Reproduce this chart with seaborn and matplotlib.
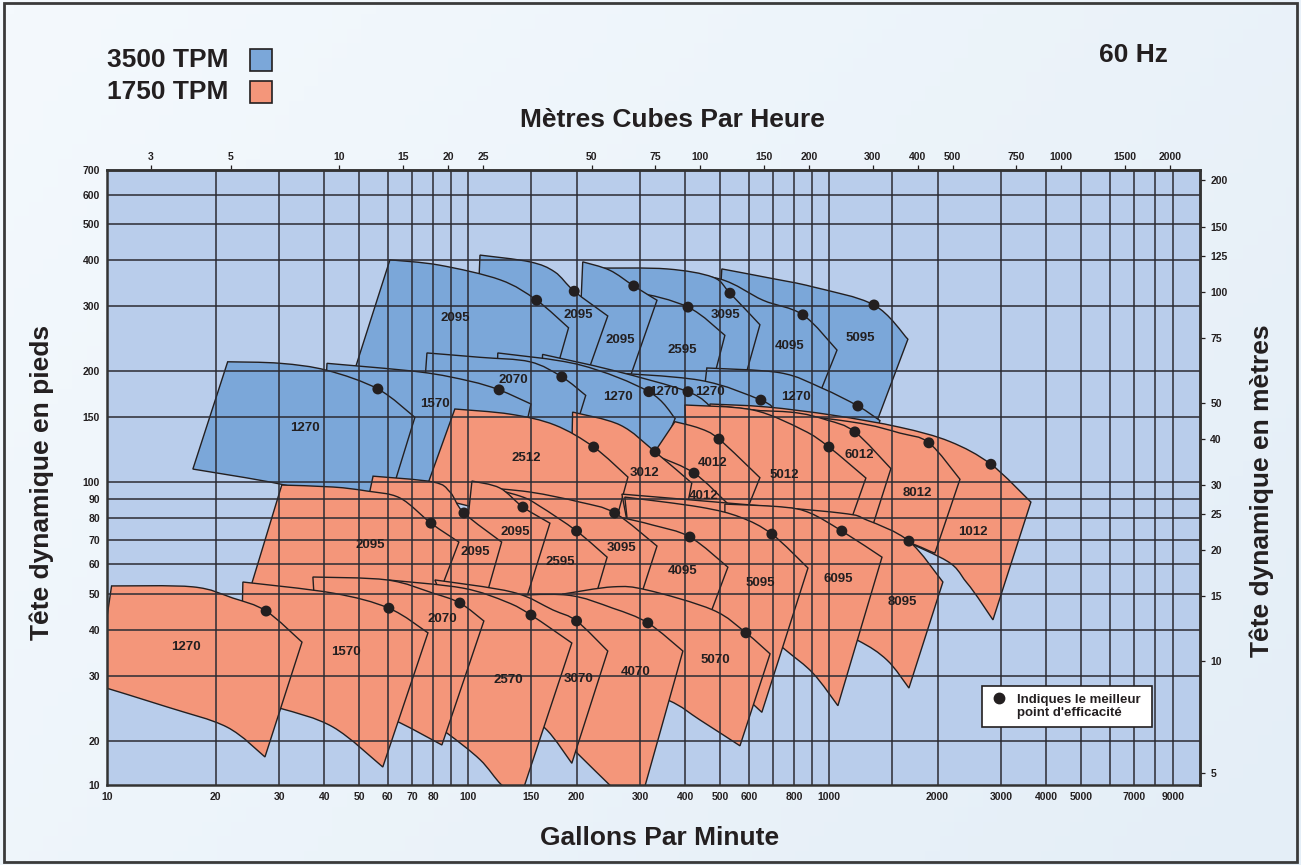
import numpy as np
import matplotlib
matplotlib.use("Agg")
import matplotlib.pyplot as plt
from matplotlib.path import Path
from matplotlib.patches import PathPatch, Rectangle
from matplotlib.ticker import NullLocator
from matplotlib.colors import LinearSegmentedColormap
import seaborn as sns

sns.set_theme(style="white")
plt.rcParams["font.family"] = ["Liberation Sans", "DejaVu Sans"]

# colours
INK = "#231f20"
GRID = "#2b2b33"
BLUE = "#7ba7d9"
ORANGE = "#f4967a"
FIELD = "#b9cdeb"

# axis values
GPM_LABELS = [10, 20, 30, 40, 50, 60, 70, 80, 100, 150, 200, 300, 400, 500, 600,
              800, 1000, 2000, 3000, 4000, 5000, 7000, 9000]
GPM_GRID = [20, 30, 40, 50, 60, 70, 80, 90, 100, 150, 200, 300, 400, 500, 600, 700,
            800, 900, 1000, 1500, 2000, 3000, 4000, 5000, 6000, 7000, 8000, 9000]
FT_LABELS = [20, 30, 40, 50, 60, 70, 80, 90, 100, 150, 200, 300, 400, 500, 600, 700]
FT_GRID = [20, 30, 40, 50, 60, 70, 80, 90, 100, 150, 200, 300, 400, 500, 600]
M3H_TICKS = [3, 5, 10, 15, 20, 25, 50, 75, 100, 150, 200, 300, 400, 500, 750, 1000, 1500, 2000]
M_TICKS = [5, 10, 15, 20, 25, 30, 40, 50, 75, 100, 125, 150, 200]
GPM_RANGE = (10, 10660)
FT_RANGE = (15.2, 700)   # the chart is cut at the bottom but labelled 10

# pump coverage areas in (gpm, ft)
# (model, top edge shut-off -> run-out, bottom edge right -> left, best efficiency point, label spot)
rpm3500_upper = [
    ("5095", [(505, 378), (687, 357), (903, 338), (1333, 302), (1655, 244)],
     [(1350, 144), (831, 169), (486, 196)], (1333, 302), (1219, 246)),
    ("4095", [(340, 371), (499, 355), (657, 311), (847, 284), (1053, 228)],
     [(938, 172), (567, 189), (330, 199)], (847, 284), (780, 234)),
    ("3095", [(232, 380), (356, 378), (477, 359), (532, 325), (644, 267)],
     [(589, 196), (387, 178), (232, 189)], (532, 325), (518, 284)),
    ("2595", [(211, 327), (288, 327), (407, 298), (515, 250)],
     [(474, 183), (319, 183), (218, 189)], (407, 298), (392, 228)),
    ("2095", [(208, 395), (247, 375), (288, 340), (334, 311)],
     [(281, 192), (232, 199), (202, 204)], (288, 340), (264, 243)),
    ("2095", [(108, 412), (148.5, 395), (174, 371), (197, 329), (244, 282)],
     [(215, 199), (158, 204), (105, 212)], (197, 329), (202, 284)),
    ("2095", [(60.8, 400), (83.4, 387), (123, 353), (155, 311), (190, 262)],
     [(171, 183), (89, 189), (46.8, 180)], (155, 311), (92, 278)),
]

rpm3500_lower = [
    ("1270", [(459, 204), (732, 198), (956, 180), (1203, 161), (1385, 147)],
     [(1266, 115), (732, 130), (439, 139)], (1203, 161), (810, 170)),
    ("1270", [(232, 199), (439, 189), (648, 167), (709, 157)],
     [(665, 130), (439, 134), (232, 143)], (648, 167), (468, 176)),
    ("1270", [(161, 222), (252, 201), (407, 176), (474, 159)],
     [(439, 130), (264, 139), (158, 143)], (407, 176), (349, 176)),
    ("1270", [(121, 224), (204, 208), (317, 176), (375, 149)],
     [(345, 122), (204, 130), (119, 139)], (317, 176), (260, 170)),
    ("2070", [(77, 224), (108, 218), (148.5, 212), (182, 193), (212, 172)],
     [(194, 130), (123, 130), (74, 130)], (182, 193), (134, 189)),
    ("1570", [(40.7, 210), (73.6, 199), (101, 188), (122, 178), (149.5, 163)],
     [(132, 95.4), (73.6, 89.6), (38.9, 89.6)], (122, 178), (81, 163)),
    ("1270", [(21.6, 212), (30.2, 210), (40.7, 201), (56.3, 179), (71.3, 150)],
     [(58.9, 82), (44.2, 89.6), (30.2, 99), (17.3, 108.7)], (56.3, 179), (35.4, 140)),
]

rpm1750_12 = [
    ("1012", [(468, 163), (673, 160), (1026, 152), (1573, 141), (2163, 129), (2811, 112), (3627, 88.5)],
     [(2847, 42.5), (2412, 53.5), (2030, 62.8), (1143, 76.7), (499, 79.1)], (2811, 112), (2506, 73.4)),
    ("8012", [(499, 161), (1143, 146), (1573, 136), (1892, 128), (2307, 102)],
     [(1966, 64.4), (1385, 72.1), (644, 76.7), (439, 76.7)], (1892, 128), (1753, 93.6)),
    ("6012", [(499, 157), (780, 155), (987, 147.5), (1180, 137), (1485, 109)],
     [(1316, 75.3), (831, 76.7), (439, 76.7)], (1180, 137), (1211, 118.6)),
    ("5012", [(399, 162), (616, 157), (847, 138.6), (1000, 124.7), (1266, 102.8)],
     [(1151, 79.1), (732, 76.7), (412, 76.7)], (1000, 124.7), (750, 104.7)),
    ("4012", [(374.5, 146), (439, 140), (496, 131), (644, 103)],
     [(597, 85.8), (439, 76.7), (241, 76.7)], (496, 131), (477, 112.8)),
    ("4012", [(232, 137), (330, 118.6), (423, 106), (522, 88)],
     [(505, 81.1), (387, 76.7), (232, 79.1)], (423, 106), (450.5, 91.9)),
    ("3012", [(195, 155), (264, 143), (330, 121), (417, 99.6)],
     [(402, 83.2), (300, 79.1), (192, 79.1)], (330, 121), (309, 106)),
    ("2512", [(92, 158), (131, 153), (174, 143), (223, 124.7), (277.5, 103.4)],
     [(262, 84.2), (139, 81.6), (75.5, 92.5)], (223, 124.7), (144.7, 116.4)),
]

rpm1750_95 = [
    ("8095", [(267, 93), (522, 88), (1073, 82.7), (1275, 79.1), (1666, 69.4), (2069, 53.8)],
     [(1666, 27.8), (1448, 33.1), (1196, 37.5), (831, 43.8), (300, 51.2)], (1666, 69.4), (1593, 47.5)),
    ("6095", [(515, 87.4), (746, 85.8), (886, 82.7), (1086, 73.9), (1403, 62.8)],
     [(1059, 24.9), (903, 30.5), (746, 35.7), (515, 48.1)], (1086, 73.9), (1059, 54.8)),
    ("5095", [(272, 91.3), (439, 85.8), (567, 80.6), (695, 72.5), (875, 58.7)],
     [(652, 23.9), (549, 27.5), (387, 33.1), (300, 37.5)], (695, 72.5), (644, 53.5)),
    ("4095", [(180, 86.9), (255, 81.1), (325, 76.7), (412, 71.2), (525, 59)],
     [(468, 43.8), (340, 46.6), (183, 48.1)], (412, 71.2), (394, 57.6)),
    ("3095", [(106.6, 97.2), (148.5, 94.2), (204, 88.5), (255, 82.7), (334, 67.3)],
     [(300, 48.7), (232, 49.3), (148.5, 49.3)], (255, 82.7), (267, 66.5)),
    ("2595", [(103.9, 99), (139.3, 91.9), (158, 86.3), (200, 73.9), (243, 62.8)],
     [(225, 48.7), (158, 49.3), (115, 49.9)], (200, 73.9), (180, 60.9)),
    ("2095", [(102.6, 100.9), (122.6, 96.6), (142, 85.8), (168.7, 77.6)],
     [(144.7, 48.1), (115, 48.7), (95, 49.6)], (142, 85.8), (135, 73.4)),
    ("2095", [(54.6, 104), (80, 100.3), (89.2, 94.2), (97.5, 82.7), (124, 69)],
     [(112, 48.7), (73.6, 51.8), (47.1, 52.8)], (97.5, 82.7), (105, 64.8)),
    ("2095", [(30.5, 98.4), (42.3, 97.2), (52.5, 94.8), (64.8, 90.8), (79, 77.6), (94.4, 69)],
     [(82, 48.1), (47.1, 48.1), (24.4, 48.1)], (79, 77.6), (53.5, 67.7)),
]

rpm1750_70 = [
    ("5070", [(183, 49.9), (252, 52.2), (313, 51.2), (477, 45.2), (589, 39.2), (687, 34.4)],
     [(567, 19.4), (439, 22.8), (358, 25.8), (232, 30.1), (163.5, 32.1)], (589, 39.2), (486, 33.1)),
    ("4070", [(122.6, 49.3), (188, 49.6), (252, 45.7), (315, 41.7), (394, 35)],
     [(301.5, 13.8), (272, 13.8), (247, 15.2), (200, 18.6), (163.5, 22.8)], (315, 41.7), (292, 30.7)),
    ("3070", [(81, 54.5), (133, 50.5), (172, 45.2), (200, 42.2), (244, 35)],
     [(194, 17.4), (165.5, 21.4), (139, 24.2), (108, 27.5)], (200, 42.2), (202, 29.4)),
    ("2570", [(60, 54.5), (96.8, 51.8), (128, 47.5), (149.5, 43.8), (194, 36.8)],
     [(140, 14.1), (124, 15.2), (108, 17.8), (87.5, 21), (73.6, 23.5)], (149.5, 43.8), (129, 29.2)),
    ("2070", [(37.2, 55.5), (59.7, 54.5), (80, 50.2), (95, 47.2), (110.7, 42.2)],
     [(84.7, 19.5), (64.8, 22.4), (50.2, 25), (38.9, 27.5)], (95, 47.2), (84.7, 42.7)),
    ("1570", [(23.8, 53.8), (42.3, 50.2), (60.4, 45.7), (77.5, 39.2)],
     [(58.1, 17), (42.3, 21.8), (30.2, 24.5), (23.4, 25.8)], (60.4, 45.7), (45.9, 34.8)),
    ("1270", [(10.3, 52.5), (17.3, 52.2), (22.3, 48.7), (27.6, 44.9), (34.7, 37)],
     [(27.4, 18.1), (21.5, 21.8), (14.7, 24.7), (9.38, 28.3)], (27.6, 44.9), (16.6, 35.9)),
]


def bezier_through(pts):
    # catmull-rom through the points, worked out in log space (the axes are log-log)
    p = np.log10(np.asarray(pts, dtype=float))
    n = len(p)
    verts, codes = [], []
    for i in range(n - 1):
        a = p[max(i - 1, 0)]
        d = p[min(i + 2, n - 1)]
        verts += [p[i] + (p[i + 1] - a) / 6.0, p[i + 1] - (d - p[i]) / 6.0, p[i + 1]]
        codes += [Path.CURVE4] * 3
    return verts, codes


def area_path(top, bottom):
    start = np.log10(np.asarray(top[0], dtype=float))
    verts, codes = [start], [Path.MOVETO]
    v, c = bezier_through(top)
    verts += v
    codes += c
    verts.append(np.log10(np.asarray(bottom[0], dtype=float)))
    codes.append(Path.LINETO)
    v, c = bezier_through(bottom)
    verts += v
    codes += c
    verts += [start, start]
    codes += [Path.LINETO, Path.CLOSEPOLY]
    return Path(10 ** np.array(verts), codes)


fig = plt.figure(figsize=(13.01, 8.65), dpi=100)

# soft page background
bg = fig.add_axes([0, 0, 1, 1], zorder=-10)
bg.axis("off")
yy, xx = np.mgrid[0:1:60j, 0:1:90j]
bg.imshow(0.65 * xx + 0.35 * yy, aspect="auto", extent=[0, 1, 0, 1],
          cmap=LinearSegmentedColormap.from_list("page", ["#f4f9fd", "#e4eef7"]))
bg.set_xlim(0, 1)
bg.set_ylim(0, 1)

ax = fig.add_axes([0.0822, 0.0925, 0.8401, 0.7110])
ax.set_facecolor(FIELD)
ax.set_xscale("log")
ax.set_yscale("log")
ax.set_xlim(*GPM_RANGE)
ax.set_ylim(*FT_RANGE)
ax.grid(False)

# pump areas, first row is at the back
rows = [(rpm3500_upper, BLUE), (rpm3500_lower, BLUE),
        (rpm1750_12, ORANGE), (rpm1750_95, ORANGE), (rpm1750_70, ORANGE)]
z = 1.0
bep_q, bep_h = [], []
for row, colour in rows:
    for model, top, bottom, bep, spot in row:
        ax.add_patch(PathPatch(area_path(top, bottom), facecolor=colour,
                               edgecolor=INK, lw=1.0, zorder=z))
        z += 0.01
        ax.text(spot[0], spot[1], model, ha="center", va="center", fontsize=9.5,
                fontweight="bold", color=INK, zorder=3)
        bep_q.append(bep[0])
        bep_h.append(bep[1])

for q in GPM_GRID:
    ax.axvline(q, color=GRID, lw=1.1, zorder=2.5)
for h in FT_GRID:
    ax.axhline(h, color=GRID, lw=1.1, zorder=2.5)

sns.scatterplot(x=bep_q, y=bep_h, color=INK, s=62, edgecolor="none",
                zorder=4, ax=ax, legend=False)

# ticks
ax.set_xticks(GPM_LABELS, labels=[str(v) for v in GPM_LABELS],
              fontsize=7.5, fontweight="bold")
ax.set_yticks([FT_RANGE[0]] + FT_LABELS, labels=["10"] + [str(v) for v in FT_LABELS],
              fontsize=7.5, fontweight="bold")
ax.xaxis.set_minor_locator(NullLocator())
ax.yaxis.set_minor_locator(NullLocator())
ax.tick_params(axis="both", length=0, pad=5, labelcolor=INK)
for s in ax.spines.values():
    s.set_linewidth(1.8)
    s.set_color("#333333")

top_ax = ax.secondary_xaxis("top", functions=(lambda q: q * 0.2271, lambda m: m / 0.2271))
top_ax.set_xticks(M3H_TICKS, labels=[str(v) for v in M3H_TICKS],
                  fontsize=7.5, fontweight="bold")
top_ax.xaxis.set_minor_locator(NullLocator())
top_ax.tick_params(axis="x", direction="out", length=3.5, width=0.9, pad=2.5,
                   color=INK, labelcolor=INK)

right_ax = ax.secondary_yaxis("right", functions=(lambda h: h * 0.3048, lambda m: m / 0.3048))
right_ax.set_yticks(M_TICKS, labels=[str(v) for v in M_TICKS],
                    fontsize=7.5, fontweight="bold")
right_ax.yaxis.set_minor_locator(NullLocator())
right_ax.tick_params(axis="y", direction="out", length=3.5, width=0.9, pad=4,
                     color=INK, labelcolor=INK)
for sec in (top_ax, right_ax):
    for s in sec.spines.values():
        s.set_linewidth(1.8)
        s.set_color("#333333")

# best efficiency note
ax.add_patch(Rectangle((0.8005, 0.0943), 0.1556, 0.0667, transform=ax.transAxes,
                       facecolor="white", edgecolor=INK, lw=1.2, zorder=5))
ax.plot([0.8161], [0.1415], "o", color=INK, ms=7.5, transform=ax.transAxes, zorder=6)
ax.text(0.8326, 0.1280, "Indiques le meilleur\npoint d'efficacité", transform=ax.transAxes,
        ha="left", va="center", fontsize=9.5, fontweight="bold", color=INK,
        linespacing=1.15, zorder=6)

# titles and legend
fig.text(0.5165, 0.8613, "Mètres Cubes Par Heure", ha="center", va="center",
         fontsize=19, fontweight="bold", color=INK)
fig.text(0.5073, 0.0312, "Gallons Par Minute", ha="center", va="center",
         fontsize=19, fontweight="bold", color=INK)
fig.text(0.0323, 0.4428, "Tête dynamique en pieds", rotation=90, ha="center", va="center",
         fontsize=19, fontweight="bold", color=INK)
fig.text(0.9700, 0.4324, "Tête dynamique en mètres", rotation=90, ha="center", va="center",
         fontsize=19, fontweight="bold", color=INK)
fig.text(0.8709, 0.9364, "60 Hz", ha="center", va="center",
         fontsize=19, fontweight="bold", color=INK)

for label, colour, y in [("3500 TPM", BLUE, 0.9306), ("1750 TPM", ORANGE, 0.8936)]:
    fig.text(0.1753, y, label, ha="right", va="center", fontsize=19,
             fontweight="bold", color=INK)
    fig.add_artist(Rectangle((0.1922, y - 0.0127), 0.0169, 0.0254, transform=fig.transFigure,
                             facecolor=colour, edgecolor=INK, lw=1.2))

fig.add_artist(Rectangle((0.003, 0.003), 0.994, 0.994, transform=fig.transFigure,
                         facecolor="none", edgecolor="#3a3a3a", lw=2))

fig.savefig("out.png", dpi=100)
